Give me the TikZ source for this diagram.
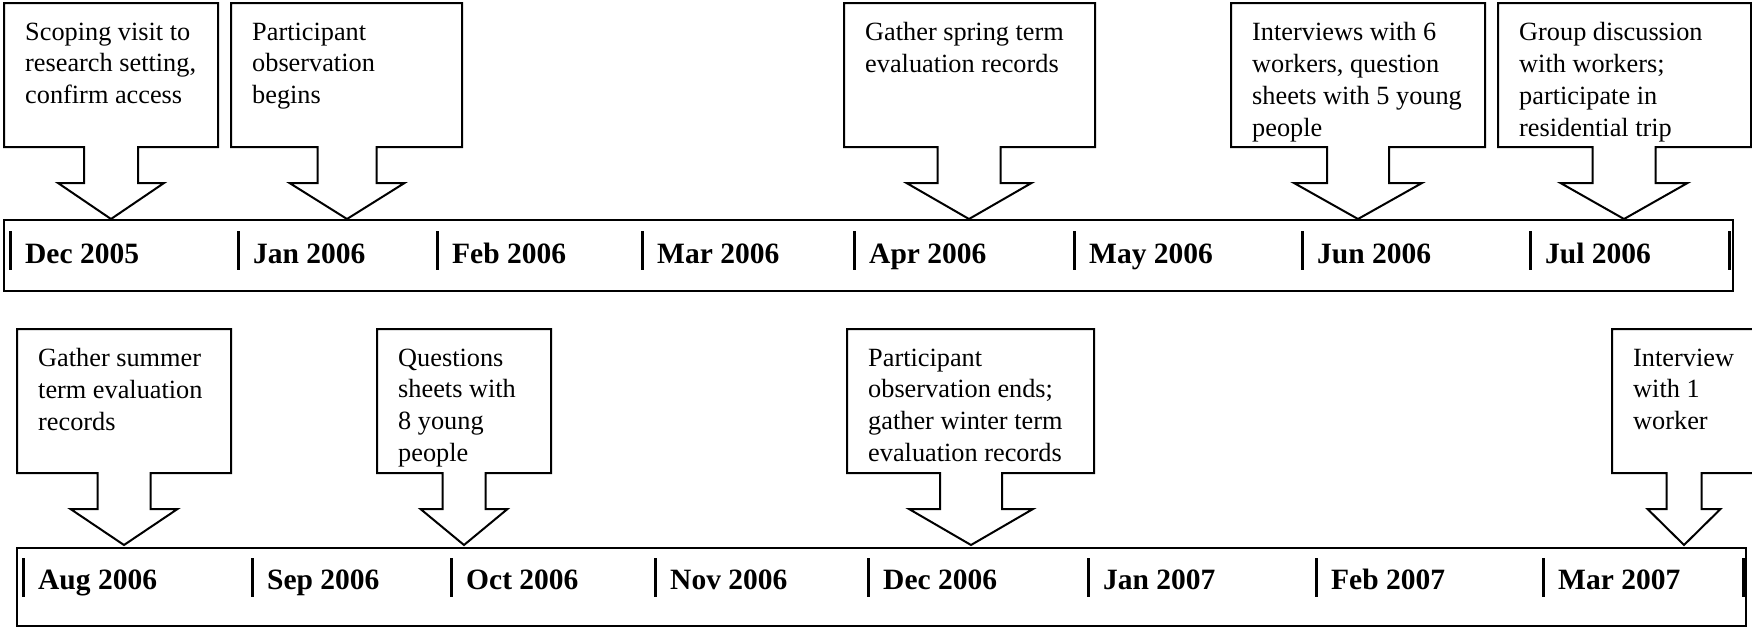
\documentclass[tikz,border=0pt]{standalone}
\usepackage{fontspec}
\setmainfont{Liberation Serif}
\usetikzlibrary{positioning}

\newcommand{\drawcallout}[8]{%
  \draw[outline] (#2,#3) -- (#4,#3) -- (#4,#3+144) -- (#5+#6,#3+144) -- (#5+#6,#3+180)
    -- (#5+#7,#3+180) -- (#5,#3+216) -- (#5-#7,#3+180) -- (#5-#6,#3+180)
    -- (#5-#6,#3+144) -- (#2,#3+144) -- cycle;
  \node[note] (#1) at (#2+21,#3+19.5) {#8};
}

\begin{document}
\begin{tikzpicture}[x=1pt, y=-1pt, line join=miter]
	\tikzstyle{outline}=[line width=2pt]
	\tikzstyle{note}=[anchor=north west, inner sep=0pt, align=left, execute at begin node=\strut,
		font=\fontsize{26.3}{31.7}\selectfont]
	\tikzstyle{month}=[anchor=base west, inner sep=0pt, font=\fontsize{29.5}{31}\selectfont\bfseries]
	\tikzstyle{tick}=[line width=3pt]
	\useasboundingbox (0,0) rectangle (1752,627);

	\drawcallout{scoping}{4}{3}{218}{111}{27}{53}{Scoping visit to\\research setting,\\confirm access}
	\drawcallout{obsbegin}{231}{3}{462}{347}{29.5}{57.5}{Participant\\observation\\begins}
	\drawcallout{spring}{844}{3}{1095}{969}{31.5}{62.5}{Gather spring term\\evaluation records}
	\drawcallout{interviews}{1231}{3}{1485}{1358}{31}{64}{Interviews with 6\\workers, question\\sheets with 5 young\\people}
	\drawcallout{group}{1498}{3}{1751}{1624}{31.5}{63.5}{Group discussion\\with workers;\\participate in\\residential trip}

	\drawcallout{summer}{17}{329}{231}{124}{26.5}{53.5}{Gather summer\\term evaluation\\records}
	\drawcallout{sheets}{377}{329}{551}{464}{21.5}{43.5}{Questions\\sheets with\\8 young\\people}
	\drawcallout{obsend}{847}{329}{1094}{971}{31}{62}{Participant\\observation ends;\\gather winter term\\evaluation records}
	\drawcallout{oneworker}{1612}{329}{1754}{1684}{17.5}{36.5}{Interview\\with 1\\worker}

	\draw[outline] (4,220) rectangle (1733,291);
	\foreach \x/\m [count=\i] in {10/Dec 2005, 238/Jan 2006, 437/Feb 2006, 642/Mar 2006,
		854/Apr 2006, 1074/May 2006, 1302/Jun 2006, 1530/Jul 2006}
	{
		\draw[tick] (\x,231) -- (\x,270);
		\node[month] (first\i) at (\x+15,263) {\m};
	}
	\draw[tick] (1729,231) -- (1729,270);

	\draw[outline] (17,548) rectangle (1746,626);
	\foreach \x/\m [count=\i] in {23/Aug 2006, 252/Sep 2006, 451/Oct 2006, 655/Nov 2006,
		868/Dec 2006, 1088/Jan 2007, 1316/Feb 2007, 1543/Mar 2007}
	{
		\draw[tick] (\x,558) -- (\x,597);
		\node[month] (second\i) at (\x+15,589) {\m};
	}
	\draw[tick] (1743,558) -- (1743,597);
\end{tikzpicture}
\end{document}
